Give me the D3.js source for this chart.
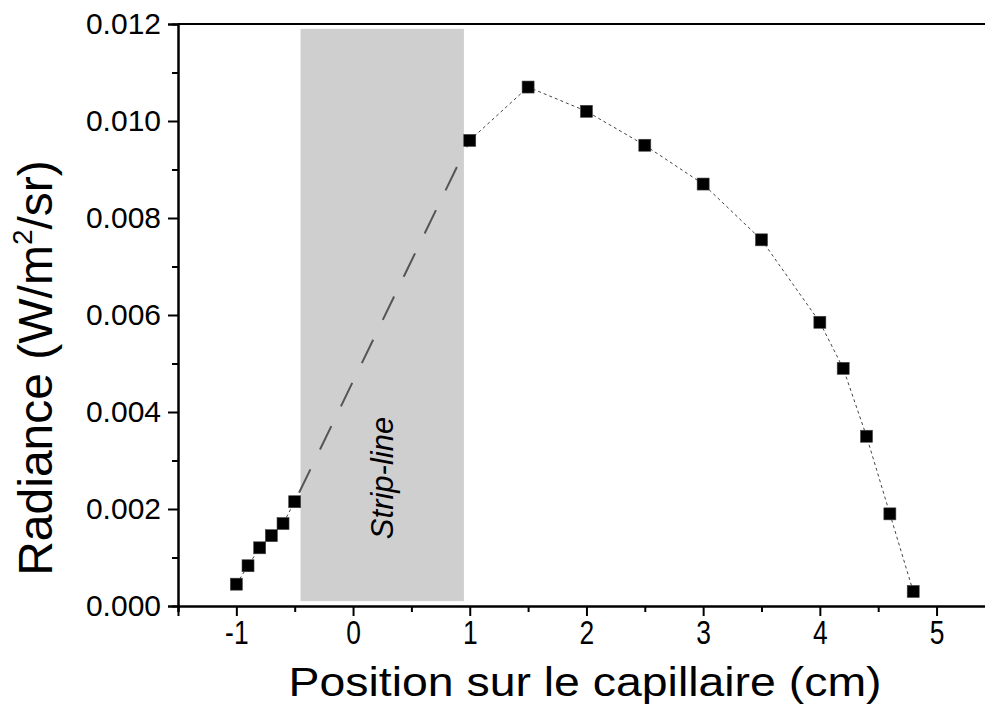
<!DOCTYPE html>
<html>
<head>
<meta charset="utf-8">
<script src="https://cdn.jsdelivr.net/npm/d3@7"></script>
<style>
	html, body { margin: 0; padding: 0; background: #fff; }
	svg { display: block; font-family: "Liberation Sans", Arial, sans-serif; }
</style>
</head>
<body>
<div id="chart"></div>
<script>
// measured points, position (cm) vs radiance
var posLeft = [-1, -0.9, -0.8, -0.7, -0.6, -0.5];
var radLeft = [0.00045, 0.00083, 0.0012, 0.00145, 0.0017, 0.00215];
var posRight = [1, 1.5, 2, 2.5, 3, 3.5, 4, 4.2, 4.4, 4.6, 4.8];
var radRight = [0.0096, 0.0107, 0.0102, 0.0095, 0.0087, 0.00755, 0.00585, 0.0049, 0.0035, 0.0019, 0.0003];
// strip-line zone (x from/to, y from/to)
var stripX = [-0.45, 0.95];
var stripY = [0.0001, 0.0119];
var xTicks = [-1, 0, 1, 2, 3, 4, 5];
var xMinor = [-1.5, -0.5, 0.5, 1.5, 2.5, 3.5, 4.5, 5.5];
var yTicks = [0, 0.002, 0.004, 0.006, 0.008, 0.010, 0.012];
var yMinor = [0.001, 0.003, 0.005, 0.007, 0.009, 0.011];

(function() {
	var width = 985,
		height = 711,
		pLeft = 178,
		pTop = 24,
		pBottom = 606;

	var x = d3.scaleLinear().domain([-1.5, 5.5]).range([pLeft, pLeft + 7 * 116.7]);
	var y = d3.scaleLinear().domain([0, 0.012]).range([pBottom, pTop]);

	var svg = d3.select("#chart").append("svg")
		.attr("width", width)
		.attr("height", height);

	// shaded zone
	svg.append("rect")
		.attr("x", x(stripX[0]))
		.attr("y", y(stripY[1]))
		.attr("width", x(stripX[1]) - x(stripX[0]))
		.attr("height", y(stripY[0]) - y(stripY[1]))
		.attr("fill", "#d0cfd0");

	svg.append("text")
		.attr("transform", "translate(" + (x((stripX[0] + stripX[1]) / 2) + 11) + "," + 478 + ") rotate(-90)")
		.attr("text-anchor", "middle")
		.style("font-family", "'Liberation Sans', Arial, sans-serif")
		.style("font-style", "italic")
		.style("font-size", "31px")
		.attr("fill", "#000")
		.text("Strip-line");

	// dotted lines between measures
	var line = d3.line()
		.x(function(d) { return x(d[0]); })
		.y(function(d) { return y(d[1]); });

	var leftPts = posLeft.map(function(p, i) { return [p, radLeft[i]]; });
	var rightPts = posRight.map(function(p, i) { return [p, radRight[i]]; });

	[leftPts, rightPts].forEach(function(pts) {
		svg.append("path")
			.attr("d", line(pts))
			.attr("fill", "none")
			.attr("stroke", "#444")
			.attr("stroke-width", 1)
			.attr("stroke-dasharray", "3,3");
	});

	// long dash across the strip-line
	svg.append("path")
		.attr("d", line([leftPts[leftPts.length - 1], rightPts[0]]))
		.attr("fill", "none")
		.attr("stroke", "#555")
		.attr("stroke-width", 2)
		.attr("stroke-dasharray", "26,22")
		.attr("stroke-dashoffset", -10);

	// markers
	svg.selectAll("rect.pt")
		.data(leftPts.concat(rightPts))
		.join("rect")
		.attr("class", "pt")
		.attr("x", function(d) { return x(d[0]) - 6; })
		.attr("y", function(d) { return y(d[1]) - 6; })
		.attr("width", 12)
		.attr("height", 12)
		.attr("fill", "#000")
		.attr("stroke", "#444")
		.attr("stroke-width", 0.6);

	// axes
	var gx = svg.append("g")
		.attr("transform", "translate(0," + pBottom + ")")
		.call(d3.axisBottom(x).tickValues(xTicks).tickSize(10).tickPadding(5)
			.tickFormat(function(d) { return String(d); }));
	svg.append("g")
		.attr("transform", "translate(0," + pBottom + ")")
		.call(d3.axisBottom(x).tickValues(xMinor).tickSize(6).tickFormat(""));

	var gy = svg.append("g")
		.attr("transform", "translate(" + pLeft + ",0)")
		.call(d3.axisLeft(y).tickValues(yTicks).tickSize(10).tickPadding(7).tickFormat(d3.format(".3f")));
	svg.append("g")
		.attr("transform", "translate(" + pLeft + ",0)")
		.call(d3.axisLeft(y).tickValues(yMinor).tickSize(6).tickFormat(""));

	svg.selectAll(".domain").attr("stroke", "#000").attr("stroke-width", 2);
	svg.selectAll(".tick line").attr("stroke", "#000").attr("stroke-width", 2);
	svg.selectAll(".tick text")
		.attr("fill", "#000")
		.style("font-family", "'Liberation Sans', Arial, sans-serif");
	gy.selectAll(".tick text").style("font-size", "30px");
	// x labels are drawn narrow in the original
	gx.selectAll(".tick text")
		.style("font-size", "33px")
		.attr("transform", "scale(0.8,1)");

	// top frame line
	svg.append("line")
		.attr("x1", pLeft).attr("x2", width)
		.attr("y1", pTop).attr("y2", pTop)
		.attr("stroke", "#000")
		.attr("stroke-width", 2);

	// axis titles
	svg.append("text")
		.attr("x", 585)
		.attr("y", 696)
		.attr("text-anchor", "middle")
		.style("font-size", "41px")
		.attr("textLength", 593)
		.attr("lengthAdjust", "spacingAndGlyphs")
		.attr("fill", "#000")
		.text("Position sur le capillaire (cm)");

	var yt = svg.append("text")
		.attr("transform", "translate(52,368) rotate(-90)")
		.attr("text-anchor", "middle")
		.style("font-size", "48px")
		.attr("fill", "#000");
	yt.append("tspan").text("Radiance (W/m");
	yt.append("tspan").attr("dy", -20).style("font-size", "28px").text("2");
	yt.append("tspan").attr("dy", 20).text("/sr)");
})();
</script>
</body>
</html>
